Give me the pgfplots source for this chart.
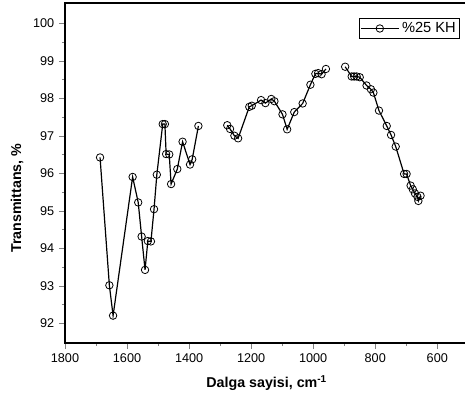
\documentclass[border=0pt]{standalone}
\usepackage{pgfplots}
\pgfplotsset{compat=1.18}
\usepackage{fontspec}
\setmainfont{Liberation Sans}
\begin{document}
\begin{tikzpicture}
\begin{axis}[
  scale only axis,
  width=302.5pt, height=255pt,
  xmin=500, xmax=1800, x dir=reverse,
  ymin=91.47, ymax=100.54,
  xtick={600,800,...,1800},
  ytick={92,93,...,100},
  minor x tick num=1, minor y tick num=1,
  tick align=outside,
  xtick pos=left, ytick pos=left,
  major tick length=4.5pt, minor tick length=2.25pt,
  /pgf/number format/assume math mode=true,
  /pgf/number format/1000 sep={},
  tick label style={font=\fontsize{9.5}{11}\selectfont},
  xlabel={\textbf{Dalga sayisi, cm\textsuperscript{-1}}},
  ylabel={\textbf{Transmittans, \%}},
  label style={font=\fontsize{10.7}{12}\selectfont},
  xlabel style={at={(axis description cs:0.5,-0.118)},anchor=center},
  ylabel style={at={(axis description cs:-0.119,0.426)},anchor=center},
  axis line style={line width=0.8pt},
  unbounded coords=jump,
  legend style={at={(axis description cs:0.98,0.956)},anchor=north east,
    font=\fontsize{11}{12}\selectfont, draw=black, line width=0.6pt,
    inner sep=1pt},
  legend image code/.code={%
    \draw[mark repeat=2,mark phase=2] plot coordinates {(0cm,0cm) (0.5cm,0cm) (1cm,0cm)};},
  legend cell align=left,
]
\coordinate (sw) at (rel axis cs:0,0);
\addplot[black, line width=0.9pt, mark=o, mark size=2.8pt,
  mark options={fill=white, line width=0.6pt}] coordinates {
(1687,96.42) (1657,93.01) (1645,92.20) (1582,95.90) (1564,95.22)
(1553,94.31) (1542,93.42) (1533,94.19) (1523,94.18) (1513,95.04)
(1504,95.96) (1485,97.31) (1478,97.31) (1474,96.51) (1464,96.50)
(1458,95.71) (1438,96.11) (1421,96.84) (1397,96.23) (1390,96.37)
(1370,97.26)
(1320,nan)
(1277,97.28) (1268,97.18) (1254,97.00) (1242,96.93) (1206,97.77)
(1198,97.80) (1168,97.95) (1154,97.87) (1135,97.98) (1125,97.92)
(1099,97.57) (1084,97.17) (1061,97.63) (1034,97.86) (1009,98.36)
(993,98.65) (984,98.67) (973,98.64) (959,98.78)
(930,nan)
(897,98.84) (876,98.58) (868,98.58) (860,98.58) (850,98.56)
(828,98.34) (814,98.24) (806,98.15) (788,97.67) (763,97.26)
(749,97.02) (734,96.71) (707,95.98) (699,95.98) (686,95.67)
(679,95.57) (672,95.46) (664,95.37) (661,95.26) (654,95.40)
};
\addlegendentry{\%25 KH}
\end{axis}
\pgfresetboundingbox
\path (sw) ++(-48.75pt,-43.5pt) rectangle ++(348.75pt,300.75pt);
\end{tikzpicture}
\end{document}
